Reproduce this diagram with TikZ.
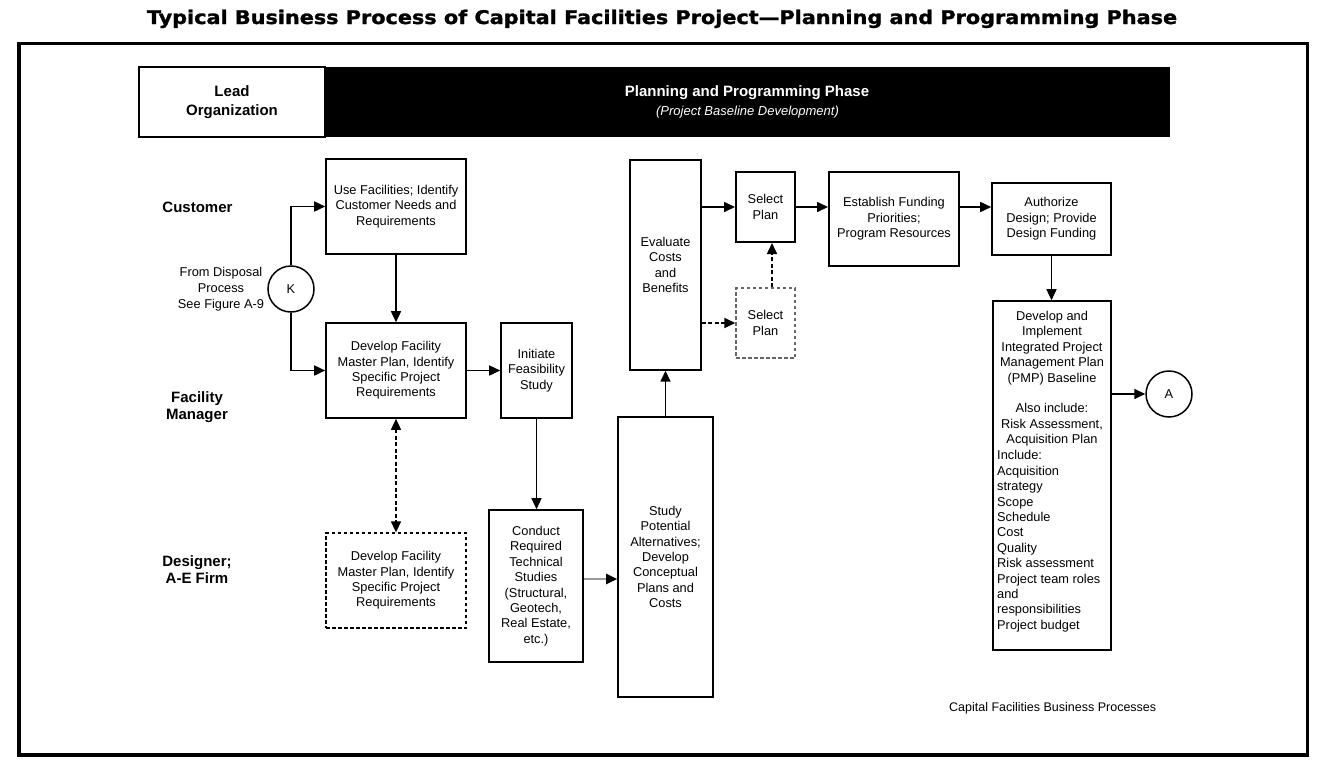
\documentclass[tikz,border=0pt]{standalone}
\usepackage{fontspec}
\setmainfont{Liberation Sans}
\newfontfamily\titlefont[BoldFeatures={FakeBold=1.3}]{DejaVu Sans}
\usetikzlibrary{arrows.meta}
\newcommand\bxfont{\fontsize{12.8}{15.4}\selectfont}
\tikzset{
  box/.style={draw, line width=1.6pt, inner sep=0pt, align=center, font=\bxfont},
  dbox/.style={box, dashed, dash pattern=on 3.5pt off 2.5pt},
  lane/.style={font=\fontsize{15}{17.5}\selectfont\bfseries, align=center, inner sep=0pt},
  tip/.style={-{Triangle[length=11pt,width=10pt]}},
  arr/.style={line width=1.6pt, tip},
  dshline/.style={dashed, dash pattern=on 4pt off 2.5pt},
  circ/.style={circle, draw, line width=1.5pt, minimum size=46pt, inner sep=0pt, font=\bxfont},
  txt/.style={inner sep=0pt, align=center, font=\bxfont}
}
\begin{document}
\begin{tikzpicture}[x=1pt,y=-1pt]
\useasboundingbox (0,0) rectangle (1323,774);
% title
\node[anchor=base, inner sep=0pt] (title) at (662,24)
  {\resizebox{1030pt}{14.3pt}{\titlefont\bfseries Typical Business Process of Capital Facilities Project\textemdash Planning and Programming Phase}};
% outer frame
\node[draw, line width=3.2pt, minimum width=1288.5pt, minimum height=711.5pt, inner sep=0pt] (frame) at (663.25,399.25) {};
% header
\node[fill=black, minimum width=845pt, minimum height=70pt, inner sep=0pt] (bar) at (747.5,102) {};
\node[draw, fill=white, line width=1.6pt, minimum width=186pt, minimum height=70pt, inner sep=0pt,
      font=\fontsize{15}{18.5}\selectfont\bfseries, align=center] (lead) at (232,102) {Lead\\Organization};
\node[inner sep=0pt, text=white, font=\fontsize{15}{18}\selectfont\bfseries] (phase) at (747,93) {Planning and Programming Phase};
\node[inner sep=0pt, text=white, font=\fontsize{13}{15}\selectfont\itshape] (phasesub) at (747.5,112) {(Project Baseline Development)};
% lane labels
\node[lane] (lcust) at (197.5,207) {Customer};
\node[lane] (lfm) at (197,407) {Facility\\Manager};
\node[lane] (lde) at (197,569.5) {Designer;\\A-E Firm};
% from disposal
\node[txt, font=\fontsize{12.8}{16}\selectfont] (fromd) at (221,289) {From Disposal\\Process\\See Figure A-9};
\node[circ] (K) at (291,289) {K};
% boxes
\node[box, minimum width=140pt, minimum height=95pt] (use) at (396,206.5) {Use Facilities; Identify\\Customer Needs and\\Requirements};
\node[box, minimum width=140pt, minimum height=95pt] (dev) at (396,370.5) {Develop Facility\\Master Plan, Identify\\Specific Project\\Requirements};
\node[box, minimum width=71pt, minimum height=95pt] (init) at (536.5,370.5) {Initiate\\Feasibility\\Study};
\node[dbox, line width=1.3pt, minimum width=140pt, minimum height=95pt] (ddev) at (396,580.5) {Develop Facility\\Master Plan, Identify\\Specific Project\\Requirements};
\node[box, minimum width=94pt, minimum height=152pt] (cond) at (536,586) {Conduct\\Required\\Technical\\Studies\\(Structural,\\Geotech,\\Real Estate,\\etc.)};
\node[box, minimum width=95pt, minimum height=280pt] (study) at (665.5,557) {Study\\Potential\\Alternatives;\\Develop\\Conceptual\\Plans and\\Costs};
\node[box, line width=1.4pt, minimum width=71pt, minimum height=210pt] (eval) at (665.5,265) {Evaluate\\Costs\\and\\Benefits};
\node[box, line width=2pt, minimum width=59pt, minimum height=70pt] (sel) at (765.5,207) {Select\\Plan};
\node[dbox, line width=1.4pt, draw=black!60, minimum width=59pt, minimum height=70pt] (dsel) at (765.5,323) {Select\\Plan};
\node[box, line width=2pt, minimum width=130pt, minimum height=94pt] (fund) at (894,219) {Establish Funding\\Priorities;\\Program Resources};
\node[box, minimum width=119pt, minimum height=72pt] (auth) at (1051.5,219) {Authorize\\Design; Provide\\Design Funding};
\node[box, minimum width=118pt, minimum height=349pt] (pmp) at (1052,475.5) {};
\node[txt, anchor=north] (pmptxt) at (1052,311) {Develop and\\Implement\\Integrated Project\\Management Plan\\(PMP) Baseline\\[15.4pt]Also include:\\Risk Assessment,\\Acquisition Plan};
\node[txt, anchor=north west, align=left] (pmplist) at (997,450.5) {Include:\\Acquisition\\strategy\\Scope\\Schedule\\Cost\\Quality\\Risk assessment\\Project team roles\\and\\responsibilities\\Project budget};
\node[circ] (A) at (1169,394) {A};
\node[txt, anchor=west, font=\fontsize{12.5}{15}\selectfont] (foot) at (949,708) {Capital Facilities Business Processes};
% connectors
\draw[arr] (K.north) |- (use.west);
\draw[arr] (K.south) |- (dev.west);
\draw[arr] (use.south) -- (dev.north);
\draw[arr] (dev.east) -- (init.west);
\draw[line width=1.2pt, tip] (init.south) -- (init.south |- cond.north);
\draw[line width=1.5pt, dshline, {Triangle[length=11pt,width=10pt]}-{Triangle[length=11pt,width=10pt]}] (dev.south) -- (ddev.north);
\draw[line width=2.2pt, black!40, -{Triangle[length=11pt,width=10pt,color=black]}] ([yshift=7pt]cond.east) -- ([yshift=7pt]cond.east -| study.west);
\draw[arr] (study.north) -- (eval.south);
\draw[arr] (sel.west -| eval.east) -- (sel.west);
\draw[arr, dshline] (dsel.west -| eval.east) -- (dsel.west);
\draw[arr, dshline] ([xshift=6.5pt]dsel.north) -- ([xshift=6.5pt]sel.south);
\draw[arr] (sel.east) -- (sel.east -| fund.west);
\draw[arr] ([yshift=12pt]fund.east) -- ([yshift=12pt]auth.west);
\draw[arr] (auth.south) -- (auth.south |- pmp.north);
\draw[arr] (A.west -| pmp.east) -- (A.west);
\end{tikzpicture}
\end{document}
